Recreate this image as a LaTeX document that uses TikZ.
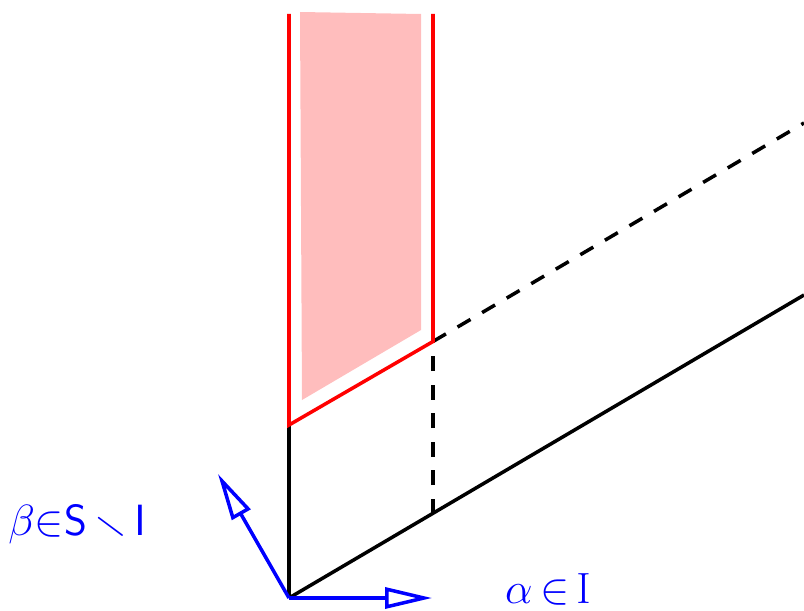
\documentclass[tikz,border=0pt]{standalone}
\usepackage{amssymb}
\usetikzlibrary{arrows.meta}

\begin{document}
\begin{tikzpicture}[
    edge/.style={line width=2pt, black},
    hidden/.style={line width=2pt, black, dash pattern=on 0.3cm off 0.27cm},
    wall/.style={line width=2pt, red},
    arr/.style={-{Triangle[open, length=0.94cm, width=0.42cm, line width=2pt]}, line width=2pt, blue},
    lbl/.style={text=blue, inner sep=0pt, anchor=base, font=\fontsize{24}{28}\selectfont}
    ]
    \useasboundingbox (-5.78,-0.24) rectangle (10.30,11.96);
    \coordinate (o) at (0,0);
    \coordinate (ltop) at (0,3.46);
    \coordinate (rbot) at (2.88,1.69);
    \coordinate (rtop) at (2.88,5.13);
    \coordinate (lend) at (0,11.68);
    \coordinate (rend) at (2.88,11.68);
    \coordinate (far) at (10.30,6.06);
    \coordinate (farup) at (10.30,9.50);
    \coordinate (ea) at (2.86,0);
    \coordinate (eb) at (-1.42,2.48);

    \fill[red!26] (0.22,11.72) -- (2.64,11.68) -- (2.64,5.36) -- (0.26,3.96) -- cycle;

    \draw[edge] (o) -- (ltop);
    \draw[edge] (o) -- (far);
    \draw[hidden] (rbot) -- (rtop);
    \draw[hidden] (rtop) -- (farup);
    \draw[wall] (lend) -- (ltop) -- (rtop) -- (rend);

    \draw[arr] (o) -- (ea);
    \draw[arr] (o) -- (eb);

    \node[lbl] (alpha) at (5.18,-0.10) {$\alpha\,{\in}\,\mathrm{I}$};
    \node[lbl] (beta) at (-4.24,1.26) {$\beta{\in}\mathsf{S}\,{\smallsetminus}\,\mathsf{I}$};
  \end{tikzpicture}
\end{document}
